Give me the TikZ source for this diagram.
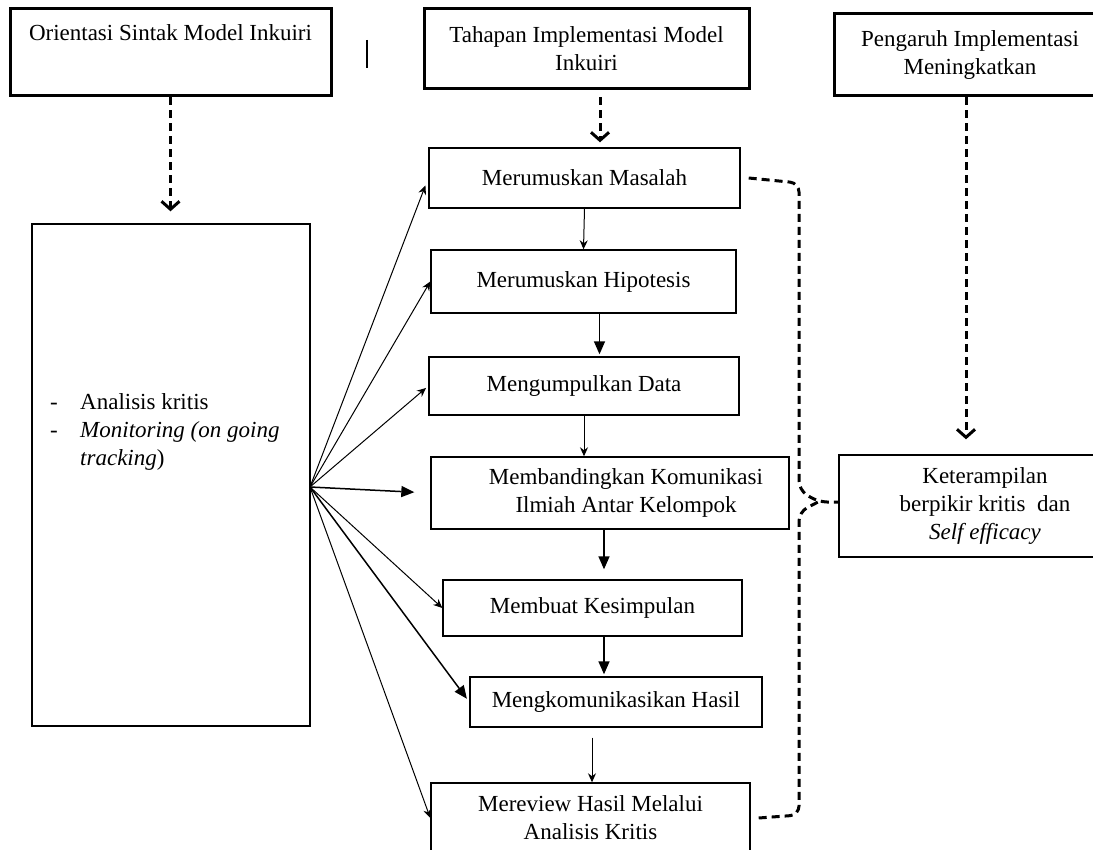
\documentclass[tikz,border=0pt]{standalone}
\usepackage{fontspec}
\setmainfont{Liberation Serif}
\usetikzlibrary{arrows.meta,calc}

\tikzstyle{head} = [draw, line width=3pt, inner sep=0pt, align=center]
\tikzstyle{stage} = [draw, line width=1.4pt, inner sep=0pt, align=center]
\tikzstyle{fanarrow} = [line width=1pt, -{Stealth[length=9pt,width=8pt]}]
\tikzstyle{bigarrow} = [line width=1.5pt, -{Triangle[length=13pt,width=11pt]}]
\tikzstyle{dashlink} = [line width=3pt, dash pattern=on 8pt off 5pt]
\tikzstyle{dasharrow} = [dashlink, -{Straight Barb[length=8pt,width=18pt]}]

\begin{document}
\begin{tikzpicture}[x=1pt, y=-1pt, font=\fontsize{23}{28}\selectfont]
    \useasboundingbox (0,0) rectangle (1093,850);
    \node[head, minimum width=321pt, minimum height=87pt] (orient) at (170.5,52.5) {Orientasi Sintak Model Inkuiri\\[4pt] \strut};
    \node[head, minimum width=325pt, minimum height=80pt] (tahap) at (586.5,49) {Tahapan Implementasi Model\\Inkuiri};
    \node[head, minimum width=272pt, minimum height=82pt] (pengaruh) at (970,55) {Pengaruh Implementasi\\Meningkatkan};
    \draw[line width=2.5pt] (367,40) -- (367,68);

    \node[stage, minimum width=278pt, minimum height=502pt] (sintak) at (171,475) {};
    \node[anchor=west, inner sep=0pt] (list) at (50,432) {\begin{tabular}{@{}p{30pt}@{}l@{}}
        - & Analisis kritis\\
        - & \textit{Monitoring (on going}\\
          & \textit{tracking})
    \end{tabular}};

    \node[stage, minimum width=311pt, minimum height=60pt] (step1) at (584.5,178) {Merumuskan Masalah};
    \node[stage, minimum width=305pt, minimum height=63pt] (step2) at (583.5,281.5) {Merumuskan Hipotesis};
    \node[stage, minimum width=310pt, minimum height=58pt] (step3) at (584,386) {Mengumpulkan Data};
    \node[stage, minimum width=358pt, minimum height=72pt,
        label={[align=center, xshift=16pt]center:Membandingkan Komunikasi\\Ilmiah Antar Kelompok}] (step4) at (610,493) {};
    \node[stage, minimum width=299pt, minimum height=56pt] (step5) at (592.5,608) {Membuat Kesimpulan};
    \node[stage, minimum width=292pt, minimum height=50pt] (step6) at (616,702) {Mengkomunikasikan Hasil};
    \node[stage, minimum width=319pt, minimum height=70pt] (step7) at (590.5,818) {Mereview Hasil Melalui\\Analisis Kritis};

    \node[stage, minimum width=292pt, minimum height=102pt] (hasil) at (985,506) {Keterampilan\\berpikir kritis\ \ dan\\\textit{Self efficacy}};

    \coordinate (fan) at (310,487);
    \draw[fanarrow, shorten >=8pt] (fan) -- (step1.west);
    \draw[fanarrow] (fan) -- (step2.west);
    \draw[fanarrow, shorten >=3pt] (fan) -- (step3.west);
    \draw[bigarrow, shorten >=16pt] (fan) -- (step4.west);
    \draw[fanarrow] (fan) -- (step5.west);
    \draw[bigarrow, shorten >=4pt] (fan) -- (step6.west);
    \draw[fanarrow] (fan) -- (step7.west);

    \draw[fanarrow] (step1.south) -- (step2.north);
    \draw[bigarrow, shorten >=2pt] ([xshift=16pt]step2.south) -- ([xshift=16pt]step2.south |- step3.north);
    \draw[fanarrow] (step3.south) -- (step3.south |- step4.north);
    \draw[bigarrow, shorten >=10pt] ([xshift=-6pt]step4.south) -- ([xshift=-6pt]step4.south |- step5.north);
    \draw[bigarrow, shorten >=2pt] ([xshift=11.5pt]step5.south) -- ([xshift=11.5pt]step5.south |- step6.north);
    \draw[fanarrow, shorten <=10pt] ([xshift=-24pt]step6.south) -- ([xshift=-24pt]step6.south |- step7.north);

    \draw[dasharrow, shorten >=12pt] (orient.south) -- (orient.south |- sintak.north);
    \draw[dasharrow, shorten <=7pt, shorten >=5pt] ([xshift=13.5pt]tahap.south) -- ([xshift=13.5pt]tahap.south |- step1.north);
    \draw[dasharrow, shorten >=15pt] ([xshift=-4pt]pengaruh.south) -- ([xshift=-4pt]pengaruh.south |- hasil.north);

    \coordinate (join) at (818,502);
    \draw[dashlink, rounded corners=9pt] ([xshift=8pt]step1.east) -- (799,183) -- (799,490) -- (join) -- (join -| hasil.west);
    \draw[dashlink, rounded corners=9pt] ([xshift=8pt]step7.east) -- (799,815) -- (799,512) -- (join);
\end{tikzpicture}
\end{document}
